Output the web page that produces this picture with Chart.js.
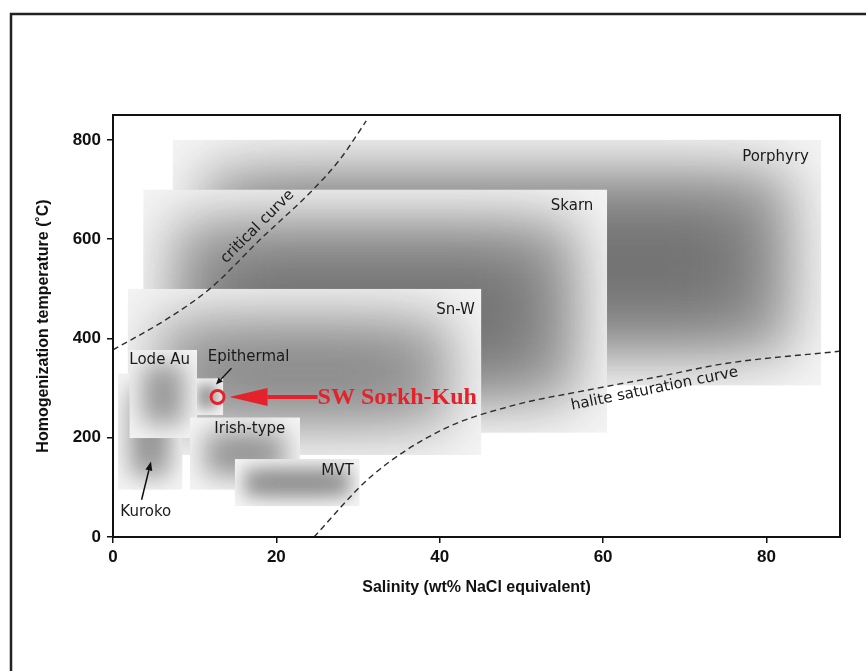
<!DOCTYPE html>
<html>
<head>
<meta charset="utf-8">
<script src="https://cdn.jsdelivr.net/npm/chart.js@4.4.0/dist/chart.umd.min.js"></script>
<style>
  html, body { margin: 0; padding: 0; background: #fff; }
  canvas { display: block; }
</style>
</head>
<body>
<canvas id="canvas" width="866" height="671"></canvas>
<script>
// deposit type fields (salinity wt% NaCl eq, homogenization temperature C)
var boxNames = ['Porphyry', 'Skarn', 'Sn-W', 'Kuroko', 'Epithermal', 'Lode Au', 'Irish-type', 'MVT'];
var salMin = [7.3, 3.7, 1.8, 0.6, 9.5, 2.0, 9.4, 14.9];
var salMax = [86.7, 60.5, 45.1, 8.5, 13.5, 10.3, 22.9, 30.2];
var tMin = [305, 210, 165, 95, 245, 199, 95, 62];
var tMax = [800, 700, 500, 330, 320, 377, 241, 157];

// dashed curves
var critSal = [0, 6.5, 12, 18, 24.5, 27.8, 31];
var critT = [377, 438, 502, 599, 700, 761, 838];
var halSal = [24.6, 31.6, 40.3, 49, 57.8, 66.5, 75.2, 88.9];
var halT = [0, 122, 216, 265, 295, 322, 350, 374];

// sample
var sampleName = 'SW Sorkh-Kuh';
var sampleSal = [12.8];
var sampleT = [282];

var xTicks = [0, 20, 40, 60, 80];
var yTicks = [0, 200, 400, 600, 800];

// label anchors in data units
var boxLabels = [
  {text: 'Porphyry', x: 85.2, y: 765, align: 'right'},
  {text: 'Skarn', x: 58.8, y: 666, align: 'right'},
  {text: 'Sn-W', x: 44.3, y: 458, align: 'right'},
  {text: 'Lode Au', x: 2.0, y: 356, align: 'left'},
  {text: 'Epithermal', x: 11.6, y: 363, align: 'left'},
  {text: 'Irish-type', x: 12.4, y: 218, align: 'left'},
  {text: 'MVT', x: 25.5, y: 132, align: 'left'},
  {text: 'Kuroko', x: 0.9, y: 51, align: 'left'}
];

function toPts(xs, ys) {
  return xs.map(function(v, i) { return {x: v, y: ys[i]}; });
}

function arrow(ctx, x0, y0, x1, y1, head, half, color, lw) {
  var a = Math.atan2(y1 - y0, x1 - x0);
  var bx = x1 - head * Math.cos(a), by = y1 - head * Math.sin(a);
  ctx.save();
  ctx.strokeStyle = color; ctx.fillStyle = color; ctx.lineWidth = lw;
  ctx.beginPath(); ctx.moveTo(x0, y0); ctx.lineTo(bx, by); ctx.stroke();
  ctx.beginPath();
  ctx.moveTo(x1, y1);
  ctx.lineTo(bx + half * Math.sin(a), by - half * Math.cos(a));
  ctx.lineTo(bx - half * Math.sin(a), by + half * Math.cos(a));
  ctx.closePath(); ctx.fill();
  ctx.restore();
}

var background = {
  id: 'background',
  beforeDraw: function(chart) {
    var ctx = chart.ctx;
    ctx.save();
    ctx.fillStyle = '#fff';
    ctx.fillRect(0, 0, chart.width, chart.height);
    ctx.strokeStyle = '#222';
    ctx.lineWidth = 2.5;
    ctx.beginPath();
    ctx.moveTo(11, chart.height); ctx.lineTo(11, 14); ctx.lineTo(chart.width, 14);
    ctx.stroke();
    ctx.restore();
  }
};

// soft grey fields: light rim, grey body, darker core
var boxes = {
  id: 'boxes',
  beforeDatasetsDraw: function(chart) {
    var ctx = chart.ctx, x = chart.scales.x, y = chart.scales.y;
    boxNames.forEach(function(name, i) {
      var x0 = x.getPixelForValue(salMin[i]), x1 = x.getPixelForValue(salMax[i]);
      var y0 = y.getPixelForValue(tMax[i]), y1 = y.getPixelForValue(tMin[i]);
      var w = x1 - x0, h = y1 - y0;
      var b = Math.min(26, Math.min(w, h) * 0.17);
      ctx.save();
      ctx.beginPath(); ctx.rect(x0, y0, w, h); ctx.clip();
      ctx.fillStyle = '#f5f5f5';
      ctx.fillRect(x0, y0, w, h);
      ctx.filter = 'blur(' + b.toFixed(1) + 'px)';
      ctx.fillStyle = '#ababab';
      ctx.fillRect(x0 + b * 1.2, y0 + b * 1.2, w - b * 2.4, h - b * 2.4);
      ctx.filter = 'blur(' + (b * 1.6).toFixed(1) + 'px)';
      ctx.fillStyle = 'rgba(60,60,60,0.55)';
      ctx.fillRect(x0 + b * 2.2, y0 + b * 2.2, w - b * 4.4, h - b * 4.4);
      ctx.restore();
    });
  }
};

var notes = {
  id: 'notes',
  afterDatasetsDraw: function(chart) {
    var ctx = chart.ctx, x = chart.scales.x, y = chart.scales.y;
    ctx.save();
    ctx.fillStyle = '#1a1a1a';
    ctx.font = '15px "DejaVu Sans"';
    ctx.textBaseline = 'middle';
    boxLabels.forEach(function(l) {
      ctx.textAlign = l.align;
      ctx.fillText(l.text, x.getPixelForValue(l.x), y.getPixelForValue(l.y));
    });

    // curve labels
    ctx.textAlign = 'center';
    ctx.save();
    ctx.translate(x.getPixelForValue(17.7), y.getPixelForValue(625));
    ctx.rotate(-45 * Math.PI / 180);
    ctx.fillText('critical curve', 0, 0);
    ctx.restore();
    ctx.save();
    ctx.translate(x.getPixelForValue(66.3), y.getPixelForValue(298));
    ctx.rotate(-11.5 * Math.PI / 180);
    ctx.fillText('halite saturation curve', 0, 0);
    ctx.restore();

    // small pointer arrows
    arrow(ctx, x.getPixelForValue(14.5), y.getPixelForValue(340), x.getPixelForValue(12.6), y.getPixelForValue(307), 7, 3, '#111', 1.3);
    arrow(ctx, x.getPixelForValue(3.5), y.getPixelForValue(75), x.getPixelForValue(4.65), y.getPixelForValue(152), 9, 3.5, '#111', 1.5);

    // red arrow + sample name
    var cx = x.getPixelForValue(sampleSal[0]), cy = y.getPixelForValue(sampleT[0]);
    arrow(ctx, cx + 100, cy, cx + 12, cy, 38, 9, '#e3222b', 4);
    ctx.fillStyle = '#e3222b';
    ctx.textAlign = 'left';
    ctx.font = 'bold 24px "Liberation Serif"';
    ctx.fillText(sampleName, cx + 100, cy + 1);
    ctx.restore();
  },
  afterDraw: function(chart) {
    var ctx = chart.ctx, a = chart.chartArea;
    ctx.save();
    ctx.strokeStyle = '#111';
    ctx.lineWidth = 2;
    ctx.strokeRect(a.left, a.top, a.right - a.left, a.bottom - a.top);
    ctx.restore();
  }
};

var tickFont = {family: '"Liberation Sans"', size: 17, weight: 'bold'};
var titleFont = {family: '"Liberation Sans"', size: 16, weight: 'bold'};

var myChart = new Chart(document.getElementById('canvas'), {
  type: 'scatter',
  data: {
    datasets: [
      {
        label: 'critical curve',
        data: toPts(critSal, critT),
        showLine: true,
        borderColor: '#2e2e2e',
        borderWidth: 1.4,
        borderDash: [6, 4],
        pointRadius: 0,
        cubicInterpolationMode: 'monotone'
      },
      {
        label: 'halite saturation curve',
        data: toPts(halSal, halT),
        showLine: true,
        borderColor: '#2e2e2e',
        borderWidth: 1.4,
        borderDash: [6, 4],
        pointRadius: 0,
        cubicInterpolationMode: 'monotone'
      },
      {
        label: sampleName,
        data: toPts(sampleSal, sampleT),
        pointRadius: 6.5,
        pointBorderWidth: 3,
        pointBorderColor: '#e3222b',
        pointBackgroundColor: 'rgba(0,0,0,0)'
      }
    ]
  },
  options: {
    responsive: false,
    animation: false,
    layout: {padding: {left: 0, top: 115, right: 26, bottom: 0}},
    plugins: {legend: {display: false}, tooltip: {enabled: false}},
    scales: {
      x: {
        type: 'linear', min: 0, max: 89,
        afterFit: function(s) { s.height = 134; },
        afterBuildTicks: function(s) { s.ticks = xTicks.map(function(v) { return {value: v}; }); },
        grid: {drawOnChartArea: false, tickLength: 6, color: '#111', lineWidth: 1.5},
        border: {color: '#111', width: 2},
        ticks: {color: '#111', font: tickFont, padding: 4, maxRotation: 0},
        title: {display: true, text: 'Salinity (wt% NaCl equivalent)', color: '#111', font: titleFont, padding: {top: 0, bottom: 74}}
      },
      y: {
        type: 'linear', min: 0, max: 850,
        afterFit: function(s) { s.width = 113; },
        afterBuildTicks: function(s) { s.ticks = yTicks.map(function(v) { return {value: v}; }); },
        grid: {drawOnChartArea: false, tickLength: 6, color: '#111', lineWidth: 1.5},
        border: {color: '#111', width: 2},
        ticks: {color: '#111', font: tickFont, padding: 6},
        title: {display: true, text: 'Homogenization temperature (˚C)', color: '#111', font: titleFont, padding: {top: 34, bottom: 0}}
      }
    }
  },
  plugins: [background, boxes, notes]
});
</script>
</body>
</html>
